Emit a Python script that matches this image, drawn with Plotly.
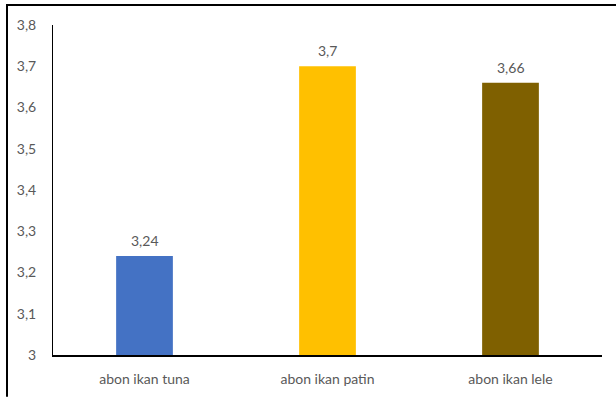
import plotly.graph_objects as go

categories = ["abon ikan tuna", "abon ikan patin", "abon ikan lele"]
values = [3.24, 3.7, 3.66]
colors = ["#4472C4", "#FFC000", "#7F6000"]
labels = [str(v).replace(".", ",") for v in values]

fig = go.Figure(go.Bar(x=categories, y=values, marker_color=colors,
                       marker_line_width=0, cliponaxis=False))

for c, v, t in zip(categories, values, labels):
    fig.add_annotation(x=c, y=v, text=t, showarrow=False, yanchor="bottom",
                       yshift=5, font=dict(size=14, color="#595959"))

fig.update_layout(
    width=616, height=399,
    margin=dict(l=53, r=14, t=25, b=42),
    plot_bgcolor="white", paper_bgcolor="white",
    separators=", ",
    font=dict(family="Lato, Calibri, sans-serif", size=14, color="#595959"),
    bargap=0.69,
    showlegend=False,
)
fig.update_xaxes(showline=True, linecolor="black", linewidth=1.5, ticks="",
                 showgrid=False, ticklabelstandoff=10, tickfont=dict(size=14, color="#595959"))
fig.update_yaxes(range=[3, 3.8], dtick=0.1, tick0=3, showline=True, linecolor="black",
                 linewidth=1, ticks="", showgrid=False, zeroline=False,
                 ticklabelstandoff=13, tickfont=dict(size=14, color="#595959"))

# outer frame (left and top edges)
fig.add_shape(type="line", xref="paper", yref="paper", x0=-46/549, x1=-46/549,
              y0=-42/332, y1=1 + 20/332, line=dict(color="black", width=2))
fig.add_shape(type="line", xref="paper", yref="paper", x0=-47/549, x1=563/549,
              y0=1 + 20/332, y1=1 + 20/332, line=dict(color="black", width=2))

fig.write_html("out.html")
